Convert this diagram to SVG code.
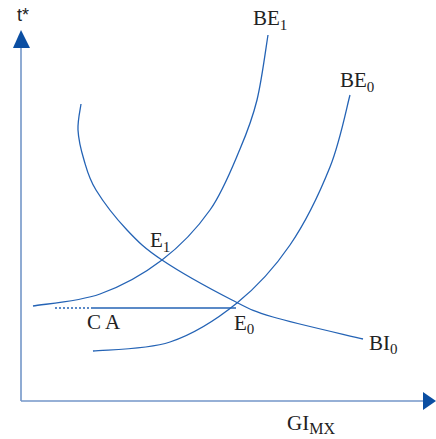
<svg xmlns="http://www.w3.org/2000/svg" width="436" height="439" viewBox="0 0 436 439">
<style>
.ax{stroke:#7396c8;stroke-width:1.6;fill:none}
.ah{fill:#0b4ea2}
.cv{stroke:#2463b5;stroke-width:1.3;fill:none}
.lb{font-family:"Liberation Serif","Times New Roman",serif;font-size:21px;fill:#222}
.sb{font-size:15px}
</style>
<rect width="436" height="439" fill="#fff"/>
<g id="axes">
<line class="ax" x1="21" y1="46" x2="21" y2="401"/>
<line class="ax" x1="21" y1="401" x2="425" y2="401"/>
<polygon class="ah" points="21,30 13,48 30,48"/>
<polygon class="ah" points="436,401 423,392 423,410"/>
<text x="17" y="21" font-family="Liberation Sans, Arial, sans-serif" font-size="18" fill="#222">t*</text>
<text class="lb" x="287" y="430">GI<tspan font-size="16" dy="4">MX</tspan></text>
</g>
<g id="connectors">
<path id="BE1-curve" class="cv" d="M33,306 C44.2,304 78.5,301.7 100,294 C121.5,286.3 143.7,274 162,260 C180.3,246 197,228.5 210,210 C223,191.5 232.2,167.3 240,149 C247.8,130.7 252.3,119 257,100 C261.7,81 266.2,45.8 268,35"/>
<path id="BE0-curve" class="cv" d="M93,351 C105.8,349.5 146,350 170,342 C194,334 217,319.2 237,303 C257,286.8 274.5,267.7 290,245 C305.5,222.3 320,192 330,167 C340,142 346.7,107 350,95"/>
<path id="BI0-curve" class="cv" d="M81,104 C80.5,108.3 77.5,120.7 78,130 C78.5,139.3 81,150 84,160 C87,170 88.8,178.3 96,190 C103.2,201.7 116,218.3 127,230 C138,241.7 144.5,248.3 162,260 C179.5,271.7 213.5,290.5 232,300 C250.5,309.5 251.2,310.5 273,317 C294.8,323.5 348,335.3 363,339"/>
<line class="cv" x1="55" y1="308" x2="92" y2="308" stroke-dasharray="2,2"/>
<line class="cv" x1="92" y1="308" x2="236" y2="308"/>
</g>
<g id="BE1"><text class="lb" x="253" y="25">BE<tspan class="sb" dy="5">1</tspan></text></g>
<g id="BE0"><text class="lb" x="340" y="87">BE<tspan class="sb" dy="5">0</tspan></text></g>
<g id="BI0"><text class="lb" x="369" y="350">BI<tspan class="sb" dy="4">0</tspan></text></g>
<g id="E1"><text class="lb" x="150" y="247">E<tspan class="sb" dy="5">1</tspan></text></g>
<g id="E0"><text class="lb" x="234" y="330">E<tspan class="sb" dy="4">0</tspan></text></g>
<g id="CA"><text class="lb" x="87" y="329">C A</text></g>
</svg>
